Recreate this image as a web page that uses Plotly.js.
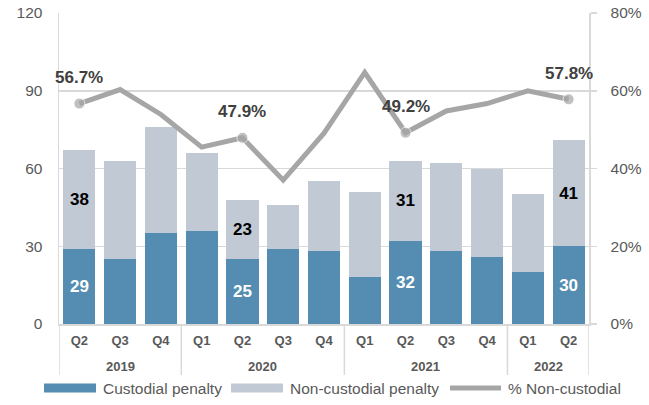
<!DOCTYPE html>
<html>
<head>
<meta charset="utf-8">
<script src="https://cdn.plot.ly/plotly-3.0.1.min.js"></script>
<style>html,body{margin:0;padding:0;background:#fff;}#chart{width:649px;height:405px;}</style>
</head>
<body>
<div id="chart"></div>
<script>
const years = ['2019','2019','2019','2020','2020','2020','2020','2021','2021','2021','2021','2022','2022'];
const quarters = ['Q2','Q3','Q4','Q1','Q2','Q3','Q4','Q1','Q2','Q3','Q4','Q1','Q2'];
const custodial = [29,25,35,36,25,29,28,18,32,28,26,20,30];
const nonCustodial = [38,38,41,30,23,17,27,33,31,34,34,30,41];
const pctNonCustodial = [56.7,60.3,53.9,45.5,47.9,37.0,49.1,64.7,49.2,54.8,56.7,60.0,57.8];
const labelled = [0,4,8,12];
const seriesNames = ['Custodial penalty','Non-custodial penalty','% Non-custodial'];

const COLORS = {cust:'#548DB1', non:'#C1C9D4', line:'#A6A6A6', grid:'#D9D9D9', text:'#595959'};
const isLab = i => labelled.indexOf(i) >= 0;
const font = 'Liberation Sans, Arial, sans-serif';
const xKeys = years.map((y,i) => y + ' ' + quarters[i]);

// geometry of plot area (pixels)
const W = 649, H = 405, M = {l:59, r:60, t:13, b:81, autoexpand:false};
const PW = W - M.l - M.r, PH = H - M.t - M.b;
const px = x => (x - M.l) / PW;          // pixel -> paper x
const py = y => (H - M.b - y) / PH;      // pixel -> paper y

const traces = [
  {
    type:'bar', name:seriesNames[0], x:xKeys, y:custodial,
    marker:{color:COLORS.cust},
    text: custodial.map((v,i)=> isLab(i) ? String(v) : ''),
    textposition:'inside', insidetextanchor:'middle', textangle:0,
    textfont:{color:'#ffffff', size:17, family:font, weight:'bold'},
    hoverinfo:'skip'
  },
  {
    type:'bar', name:seriesNames[1], x:xKeys, y:nonCustodial,
    marker:{color:COLORS.non},
    text: nonCustodial.map((v,i)=> isLab(i) ? String(v) : ''),
    textposition:'inside', insidetextanchor:'middle', textangle:0,
    textfont:{color:'#000000', size:17, family:font, weight:'bold'},
    hoverinfo:'skip'
  },
  {
    type:'scatter', mode:'lines+markers', name:seriesNames[2], x:xKeys,
    y:pctNonCustodial.map(v=>v/100), yaxis:'y2',
    line:{color:COLORS.line, width:5},
    marker:{color:COLORS.line, size:pctNonCustodial.map((v,i)=> isLab(i) ? 11 : 0)},
    hoverinfo:'skip'
  }
];

const annotations = labelled.map(i => ({
  xref:'x', yref:'y2', x:i, y:pctNonCustodial[i]/100,
  text: pctNonCustodial[i].toFixed(1) + '%', showarrow:false, yshift:26,
  font:{family:font, size:17, color:'#404040', weight:'bold'}
}));

// year group labels and dividers computed from the years array
const shapes = [];
const groups = [];
years.forEach((y,i) => {
  if (!groups.length || groups[groups.length-1].year !== y) groups.push({year:y, start:i, end:i});
  else groups[groups.length-1].end = i;
});
const divBottom = py(375);
groups.forEach((g, k) => {
  annotations.push({
    xref:'x', yref:'paper', x:(g.start + g.end)/2, y:0, yanchor:'middle', yshift:-42,
    text:g.year, showarrow:false,
    font:{family:font, size:13, color:COLORS.text, weight:'bold'}
  });
  if (k === 0) shapes.push({type:'line', xref:'x', yref:'paper', x0:g.start-0.5, x1:g.start-0.5, y0:0, y1:divBottom, line:{color:COLORS.grid, width:1.5}});
  shapes.push({type:'line', xref:'x', yref:'paper', x0:g.end+0.5, x1:g.end+0.5, y0:0, y1:divBottom, line:{color:COLORS.grid, width:1.5}});
});

// custom legend (wide patches as in the reference)
const ly = py(388);
const legendItems = [
  {kind:'rect', color:COLORS.cust, x0:44, x1:96, tx:101, name:seriesNames[0]},
  {kind:'rect', color:COLORS.non, x0:231, x1:283, tx:288, name:seriesNames[1]},
  {kind:'line', color:COLORS.line, x0:448, x1:503, tx:506, name:seriesNames[2]}
];
legendItems.forEach(it => {
  if (it.kind === 'rect') {
    shapes.push({type:'rect', xref:'paper', yref:'paper', x0:px(it.x0), x1:px(it.x1),
      y0:py(392.5), y1:py(383.5), fillcolor:it.color, line:{width:0}});
  } else {
    shapes.push({type:'line', xref:'paper', yref:'paper', x0:px(it.x0+2), x1:px(it.x1-2),
      y0:ly, y1:ly, line:{color:it.color, width:5}});
  }
  annotations.push({xref:'paper', yref:'paper', x:px(it.tx), y:ly, xanchor:'left', yanchor:'middle',
    text:it.name, showarrow:false, font:{family:font, size:15.5, color:COLORS.text}});
});

const layout = {
  width:W, height:H,
  margin:M,
  paper_bgcolor:'#ffffff', plot_bgcolor:'#ffffff',
  barmode:'stack', bargap:0.21,
  font:{family:font, color:COLORS.text},
  showlegend:false,
  xaxis:{type:'category', tickvals:xKeys, ticktext:quarters, automargin:false,
    range:[-0.5, xKeys.length - 0.5], autorange:false,
    showline:true, linecolor:COLORS.grid, linewidth:1.5, showgrid:false,
    tickfont:{size:13, color:COLORS.text, family:font, weight:'bold'},
    ticks:'', ticklabelstandoff:4},
  yaxis:{range:[0,120], dtick:30, showgrid:true, gridcolor:COLORS.grid, gridwidth:1.5,
    showline:true, linecolor:COLORS.grid, linewidth:1.5, zeroline:false, automargin:false,
    tickfont:{size:15.5, color:COLORS.text, family:font}, ticklabelstandoff:12},
  yaxis2:{overlaying:'y', side:'right', range:[0,0.8], dtick:0.2, tickformat:'.0%',
    showgrid:false, showline:true, linecolor:COLORS.grid, linewidth:1.5, zeroline:false, automargin:false,
    ticks:'outside', ticklen:6, tickcolor:COLORS.grid, tickwidth:1.5,
    tickfont:{size:15.5, color:COLORS.text, family:font}, ticklabelstandoff:11},
  annotations: annotations,
  shapes: shapes
};

Plotly.newPlot('chart', traces, layout, {displayModeBar:false, staticPlot:true});
</script>
</body>
</html>
